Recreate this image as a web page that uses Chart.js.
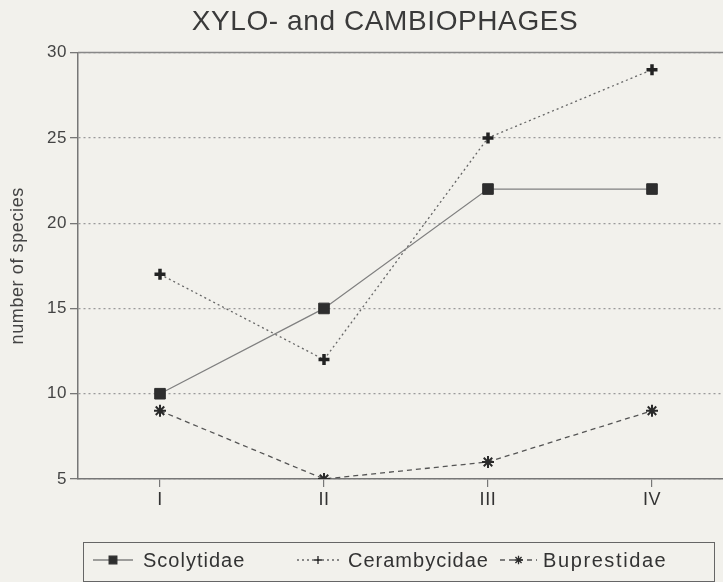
<!DOCTYPE html>
<html>
<head>
<meta charset="utf-8">
<script src="https://cdn.jsdelivr.net/npm/chart.js@4.4.1/dist/chart.umd.min.js"></script>
<style>
  html, body { margin: 0; padding: 0; background: #f2f1ec; overflow: hidden; }
  #wrap { width: 745px; height: 582px; }
</style>
</head>
<body>
<div id="wrap"><canvas id="c" width="745" height="582"></canvas></div>
<script>
// sampling periods
const periods = ['I', 'II', 'III', 'IV'];
// number of species per family
const scolytidae = [10, 15, 22, 22];
const cerambycidae = [17, 12, 25, 29];
const buprestidae = [9, 5, 6, 9];
const yTicks = [5, 10, 15, 20, 25, 30];

const ink = '#333';
const fontFam = '"Liberation Sans", Arial, sans-serif';

// slightly wider letter spacing like the scanned original,
// and title centred a bit right of the canvas middle
const spacing = {
  id: 'spacing',
  afterLayout(chart) { if (chart.titleBlock) chart.titleBlock.left += 36; },
  beforeDraw(chart) { chart.ctx.letterSpacing = '0.6px'; },
  afterDraw(chart) { chart.ctx.letterSpacing = '0px'; }
};

// top border line (solid) at y max
const topLine = {
  id: 'topLine',
  afterDatasetsDraw(chart) {
    const { ctx, chartArea } = chart;
    ctx.save();
    ctx.strokeStyle = '#888';
    ctx.lineWidth = 1.5;
    ctx.beginPath();
    ctx.moveTo(chartArea.left, chartArea.top);
    ctx.lineTo(chart.width, chartArea.top);
    ctx.stroke();
    ctx.restore();
  }
};

// boxed legend with line + marker samples
const legendSlots = [[93, 133, 143], [297, 339, 348], [500, 537, 543]];
const boxLegend = {
  id: 'boxLegend',
  afterDraw(chart) {
    const { ctx } = chart;
    ctx.save();
    ctx.strokeStyle = '#666';
    ctx.lineWidth = 1;
    ctx.strokeRect(83.5, 542.5, 631, 39);
    ctx.font = '20px ' + fontFam;
    ctx.textBaseline = 'middle';
    chart.data.datasets.forEach((ds, i) => {
      const [x0, x1, tx] = legendSlots[i], y = 560;
      ctx.strokeStyle = ds.borderColor;
      ctx.lineWidth = ds.borderWidth;
      ctx.setLineDash(ds.borderDash || []);
      ctx.beginPath();
      ctx.moveTo(x0, y);
      ctx.lineTo(x1, y);
      ctx.stroke();
      ctx.setLineDash([]);
      ctx.strokeStyle = ds.pointBorderColor;
      ctx.fillStyle = ds.pointBackgroundColor;
      Chart.helpers.drawPoint(ctx, {
        pointStyle: ds.pointStyle,
        radius: ds.pointRadius * 0.72,
        borderWidth: ds.pointBorderWidth * 0.8
      }, (x0 + x1) / 2, y);
      ctx.fillStyle = ink;
      ctx.letterSpacing = i === 2 ? '1.6px' : '1px';
      ctx.fillText(ds.label, tx, y + 1);
    });
    ctx.restore();
  }
};

new Chart(document.getElementById('c'), {
  type: 'line',
  data: {
    labels: periods,
    datasets: [
      {
        label: 'Scolytidae',
        data: scolytidae,
        borderColor: '#808080',
        borderWidth: 1.3,
        pointStyle: 'rect',
        pointRadius: 7.5,
        pointBackgroundColor: '#2e2e2e',
        pointBorderColor: '#2e2e2e',
        pointBorderWidth: 1
      },
      {
        label: 'Cerambycidae',
        data: cerambycidae,
        borderColor: '#666',
        borderWidth: 1.3,
        borderDash: [2, 3],
        pointStyle: 'cross',
        pointRadius: 5.5,
        pointBackgroundColor: '#222',
        pointBorderColor: '#222',
        pointBorderWidth: 3.5
      },
      {
        label: 'Buprestidae',
        data: buprestidae,
        borderColor: '#555',
        borderWidth: 1.3,
        borderDash: [5, 4],
        pointStyle: 'star',
        pointRadius: 6,
        pointBackgroundColor: '#2a2a2a',
        pointBorderColor: '#2a2a2a',
        pointBorderWidth: 2
      }
    ]
  },
  options: {
    responsive: false,
    animation: false,
    layout: { padding: { left: 0, right: 11, top: 0, bottom: 72 } },
    plugins: {
      legend: { display: false },
      tooltip: { enabled: false },
      title: {
        display: true,
        text: 'XYLO- and CAMBIOPHAGES',
        color: '#3a3a3a',
        font: { family: fontFam, size: 28, weight: 'normal' },
        padding: { top: 5, bottom: 14 }
      }
    },
    scales: {
      x: {
        type: 'category',
        offset: true,
        afterFit(s) { s.height = 31; },
        grid: { display: true, drawOnChartArea: false, drawTicks: true, tickLength: 8, color: '#777', lineWidth: 1.2 },
        border: { display: true, color: '#777', width: 1.5 },
        ticks: { color: ink, padding: 2, font: { family: fontFam, size: 18 } }
      },
      y: {
        min: 5,
        max: 30,
        afterFit(s) { s.width = 78; },
        afterBuildTicks(s) { s.ticks = yTicks.map(v => ({ value: v })); },
        grid: { color: '#9a9a9a', lineWidth: 1.3, tickLength: 8, tickColor: '#777', tickBorderDash: [] },
        border: { display: true, color: '#777', width: 1.5, dash: [2, 3] },
        ticks: { color: '#444', padding: 3, font: { family: fontFam, size: 17 } },
        title: {
          display: true,
          text: 'number of species',
          color: '#444',
          font: { family: fontFam, size: 18 },
          padding: { top: 7, bottom: 0 }
        }
      }
    }
  },
  plugins: [spacing, topLine, boxLegend]
});
</script>
</body>
</html>
